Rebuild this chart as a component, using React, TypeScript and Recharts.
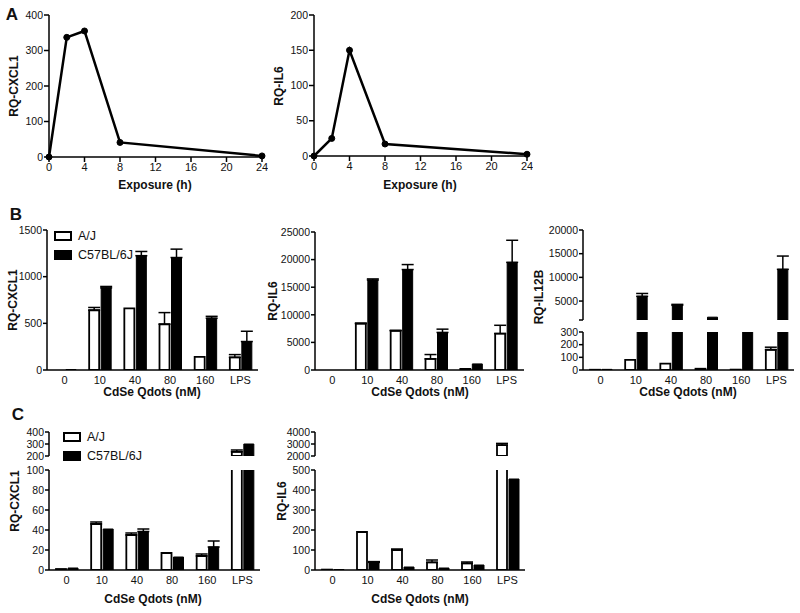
import React from 'react';
import { LineChart, Line, BarChart, Bar, XAxis, YAxis, ErrorBar } from 'recharts';

const FONT = '"Liberation Sans", Arial, Helvetica, sans-serif';

// Panel A: time course after exposure
const hours = [0, 2, 4, 8, 24];
const hourTicks = [0, 4, 8, 12, 16, 20, 24];
const cxcl1Time = [0, 337, 355, 41, 3];
const il6Time = [0, 25, 150, 17, 2.5];

// Panels B and C: dose response, A/J vs C57BL/6J
const doses = ['0', '10', '40', '80', '160', 'LPS'];

const bCxcl1Aj = [0, 640, 660, 490, 140, 135];
const bCxcl1AjErr = [0, 30, 0, 125, 0, 30];
const bCxcl1B6 = [5, 880, 1225, 1205, 555, 305];
const bCxcl1B6Err = [0, 15, 45, 90, 20, 110];

const bIl6Aj = [0, 8400, 7100, 2000, 200, 6600];
const bIl6AjErr = [0, 100, 100, 800, 0, 1500];
const bIl6B6 = [0, 16300, 18200, 6800, 1100, 19500];
const bIl6B6Err = [0, 200, 900, 600, 0, 4000];

const bIl12Aj = [2, 80, 50, 10, 3, 160];
const bIl12AjErr = [0, 0, 0, 0, 0, 20];
const bIl12B6 = [5, 6000, 4100, 1600, 700, 11700];
const bIl12B6Err = [0, 600, 200, 0, 0, 2800];

const cCxcl1Aj = [1, 46, 35, 17, 14, 235];
const cCxcl1AjErr = [0, 2, 2, 0, 2, 15];
const cCxcl1B6 = [2, 41, 38.5, 13, 23, 300];
const cCxcl1B6Err = [0, 0, 2.5, 0, 6, 0];

const cIl6Aj = [2, 190, 100, 38, 33, 2900];
const cIl6AjErr = [0, 0, 5, 12, 7, 150];
const cIl6B6 = [2, 38, 15, 10, 25, 455];
const cIl6B6Err = [0, 4, 0, 0, 0, 0];

const YW = 50; // y axis width
const M = 6;   // chart top/right margin
const XH = 22; // x axis height

const axisLine = { stroke: '#000', strokeWidth: 1.5 };
const yTick = { fontSize: 10.5, fill: '#111', fontFamily: FONT };
const xTick = { fontSize: 11, fill: '#111', fontFamily: FONT };

type Seg = { min: number; max: number; ticks: number[]; top: number; h: number; showX?: boolean; hideMin?: boolean };

function TimePanel({ axisX, top, w, h, values, max, ticks }: any) {
  const data = hours.map((t, i) => ({ t, v: values[i] }));
  return (
    <div style={{ position: 'absolute', left: axisX - YW, top: top - M }}>
      <LineChart width={YW + w + M} height={M + h + XH} data={data} margin={{ top: M, right: M, left: 0, bottom: 0 }}>
        <XAxis dataKey="t" type="number" domain={[0, 24]} ticks={hourTicks} height={XH} tickSize={5} tickMargin={1}
          axisLine={axisLine} tickLine={axisLine} tick={xTick} interval={0} />
        <YAxis width={YW} domain={[0, max]} ticks={ticks} tickSize={5} tickMargin={1}
          axisLine={axisLine} tickLine={axisLine} tick={yTick} interval={0} />
        <Line dataKey="v" type="linear" stroke="#000" strokeWidth={2.5}
          dot={{ r: 3, fill: '#000', stroke: '#000', strokeWidth: 1 }} isAnimationActive={false} />
      </LineChart>
    </div>
  );
}

function BarPanel({ axisX, w, seg, aj, ajErr, b6, b6Err }: any) {
  const s: Seg = seg;
  const keep = (v: number) => s.min === 0 || v > s.min;
  const data = doses.map((dose, i) => {
    const a = keep(aj[i]) ? aj[i] : null;
    const b = keep(b6[i]) ? b6[i] : null;
    return {
      dose,
      aj: a,
      b6: b,
      ajE: a !== null && ajErr[i] > 0 && a + ajErr[i] <= s.max ? [0, ajErr[i]] : null,
      b6E: b !== null && b6Err[i] > 0 && b + b6Err[i] <= s.max ? [0, b6Err[i]] : null,
    };
  });
  const height = M + s.h + (s.showX ? XH : M);
  return (
    <div style={{ position: 'absolute', left: axisX - YW, top: s.top - M }}>
      <BarChart width={YW + w + M} height={height} data={data} barSize={10} barGap={2}
        margin={{ top: M, right: M, left: 0, bottom: s.showX ? 0 : M }}>
        <XAxis dataKey="dose" hide={!s.showX} height={XH} tickLine={false} tickSize={4} tickMargin={2}
          axisLine={axisLine} tick={xTick} interval={0} />
        <YAxis width={YW} domain={[s.min, s.max]} ticks={s.ticks} allowDataOverflow tickSize={4} tickMargin={1}
          axisLine={axisLine} tickLine={axisLine} tick={yTick} interval={0}
          tickFormatter={(v: number) => (s.hideMin && v === s.min ? '' : String(v))} />
        <Bar dataKey="aj" fill="#fff" stroke="#000" strokeWidth={1.8} isAnimationActive={false}>
          <ErrorBar dataKey="ajE" width={6} stroke="#000" strokeWidth={1.5} />
        </Bar>
        <Bar dataKey="b6" fill="#000" stroke="#000" strokeWidth={1} isAnimationActive={false}>
          <ErrorBar dataKey="b6E" width={6} stroke="#000" strokeWidth={1.5} />
        </Bar>
      </BarChart>
    </div>
  );
}

function Title({ text, x, y, vertical }: any) {
  return (
    <div style={{
      position: 'absolute', left: x, top: y, whiteSpace: 'nowrap', fontWeight: 700, fontSize: 12,
      transform: `translate(-50%, -50%)${vertical ? ' rotate(-90deg)' : ''}`,
    }}>{text}</div>
  );
}

function Letter({ text, x, y }: any) {
  return (
    <div style={{ position: 'absolute', left: x, top: y, fontWeight: 700, fontSize: 17, lineHeight: '17px', transform: 'translate(-50%, -50%)' }}>{text}</div>
  );
}

function Legend({ x, y }: any) {
  const row = (fill: string, label: string, dy: number) => (
    <div style={{ position: 'absolute', left: x, top: y + dy, display: 'flex', alignItems: 'center', fontSize: 12.5 }}>
      <div style={{ width: 14, height: 6, border: '2px solid #000', background: fill, marginRight: 6 }} />
      <span>{label}</span>
    </div>
  );
  return (
    <>
      {row('#fff', 'A/J', 0)}
      {row('#000', 'C57BL/6J', 19)}
    </>
  );
}

export default function App() {
  return (
    <div style={{ position: 'absolute', left: 0, top: 0, width: 800, height: 613, background: '#fff', fontFamily: FONT, color: '#111' }}>
      {/* A */}
      <Letter text="A" x={12} y={14} />
      <TimePanel axisX={49} top={15} w={213} h={142} values={cxcl1Time} max={400} ticks={[0, 100, 200, 300, 400]} />
      <Title text="RQ-CXCL1" x={14} y={86} vertical />
      <Title text="Exposure (h)" x={155} y={185} />
      <TimePanel axisX={314} top={15} w={213} h={141} values={il6Time} max={200} ticks={[0, 50, 100, 150, 200]} />
      <Title text="RQ-IL6" x={279} y={86} vertical />
      <Title text="Exposure (h)" x={420} y={185} />

      {/* B */}
      <Letter text="B" x={16} y={214} />
      <BarPanel axisX={47} w={211} aj={bCxcl1Aj} ajErr={bCxcl1AjErr} b6={bCxcl1B6} b6Err={bCxcl1B6Err}
        seg={{ min: 0, max: 1500, ticks: [0, 500, 1000, 1500], top: 230, h: 140, showX: true }} />
      <Title text="RQ-CXCL1" x={13} y={300} vertical />
      <Title text="CdSe Qdots (nM)" x={152} y={392} />
      <Legend x={54} y={229} />

      <BarPanel axisX={315} w={209} aj={bIl6Aj} ajErr={bIl6AjErr} b6={bIl6B6} b6Err={bIl6B6Err}
        seg={{ min: 0, max: 25000, ticks: [0, 5000, 10000, 15000, 20000, 25000], top: 232, h: 138, showX: true }} />
      <Title text="RQ-IL6" x={273} y={301} vertical />
      <Title text="CdSe Qdots (nM)" x={420} y={392} />

      <BarPanel axisX={583} w={211} aj={bIl12Aj} ajErr={bIl12AjErr} b6={bIl12B6} b6Err={bIl12B6Err}
        seg={{ min: 1000, max: 20000, ticks: [1000, 5000, 10000, 15000, 20000], top: 230, h: 90, hideMin: true }} />
      <BarPanel axisX={583} w={211} aj={bIl12Aj} ajErr={bIl12AjErr} b6={bIl12B6} b6Err={bIl12B6Err}
        seg={{ min: 0, max: 300, ticks: [0, 100, 200, 300], top: 332, h: 38, showX: true }} />
      <Title text="RQ-IL12B" x={539} y={297} vertical />
      <Title text="CdSe Qdots (nM)" x={688} y={392} />

      {/* C */}
      <Letter text="C" x={18} y={414} />
      <BarPanel axisX={49} w={211} aj={cCxcl1Aj} ajErr={cCxcl1AjErr} b6={cCxcl1B6} b6Err={cCxcl1B6Err}
        seg={{ min: 200, max: 400, ticks: [200, 300, 400], top: 432, h: 24 }} />
      <BarPanel axisX={49} w={211} aj={cCxcl1Aj} ajErr={cCxcl1AjErr} b6={cCxcl1B6} b6Err={cCxcl1B6Err}
        seg={{ min: 0, max: 100, ticks: [0, 20, 40, 60, 80, 100], top: 470, h: 100, showX: true }} />
      <Title text="RQ-CXCL1" x={15} y={501} vertical />
      <Title text="CdSe Qdots (nM)" x={153} y={599} />
      <Legend x={63} y={430} />

      <BarPanel axisX={315} w={210} aj={cIl6Aj} ajErr={cIl6AjErr} b6={cIl6B6} b6Err={cIl6B6Err}
        seg={{ min: 2000, max: 4000, ticks: [2000, 3000, 4000], top: 432, h: 24 }} />
      <BarPanel axisX={315} w={210} aj={cIl6Aj} ajErr={cIl6AjErr} b6={cIl6B6} b6Err={cIl6B6Err}
        seg={{ min: 0, max: 500, ticks: [0, 100, 200, 300, 400, 500], top: 470, h: 100, showX: true }} />
      <Title text="RQ-IL6" x={282} y={501} vertical />
      <Title text="CdSe Qdots (nM)" x={420} y={599} />
    </div>
  );
}
